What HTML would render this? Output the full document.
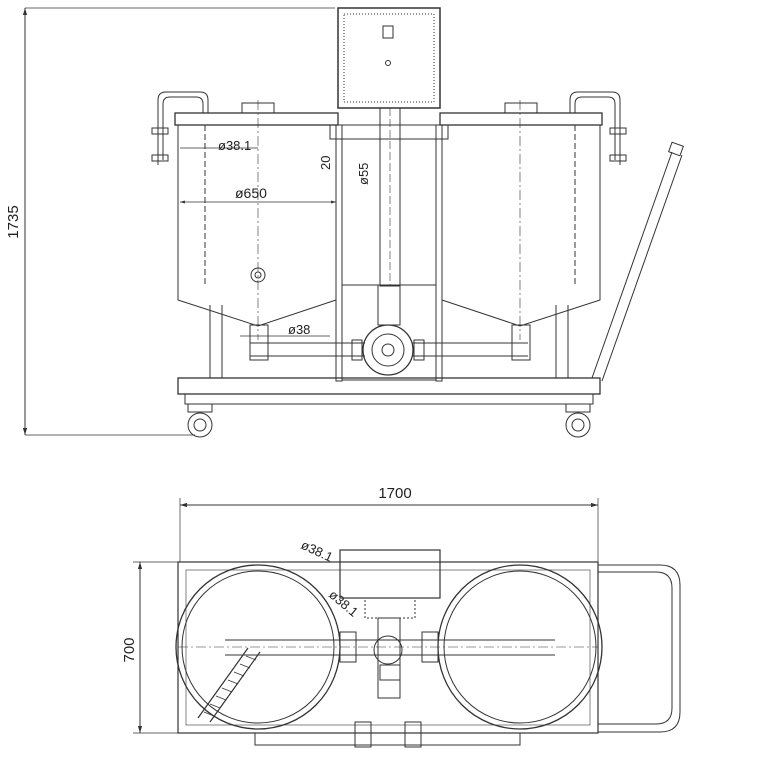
<!DOCTYPE html>
<html><head><style>html,body{margin:0;padding:0;background:#fff}svg{display:block}text{font-family:"Liberation Sans",sans-serif;fill:#222}</style></head>
<body>
<svg width="765" height="765" viewBox="0 0 765 765" xmlns="http://www.w3.org/2000/svg" fill="none" stroke="#333" stroke-width="1">
<defs><marker id="a" viewBox="0 0 10 10" refX="10" refY="5" markerWidth="7" markerHeight="7" orient="auto-start-reverse"><path d="M0 2 L10 5 L0 8 z" fill="#333" stroke="none"/></marker></defs>
<!-- 1735 dimension -->
<line x1="25" y1="8" x2="335" y2="8" stroke-width="0.7"/>
<line x1="25" y1="435" x2="195" y2="435" stroke-width="0.7"/>
<line x1="25" y1="8" x2="25" y2="435" marker-start="url(#a)" marker-end="url(#a)"/>
<text x="18" y="222" font-size="15" transform="rotate(-90 18 222)" text-anchor="middle" stroke="none">1735</text>
<!-- control box -->
<rect x="338" y="8" width="102" height="100" stroke-width="1.5"/>
<rect x="344" y="14" width="90" height="88" stroke-dasharray="1 2"/>
<rect x="383" y="26" width="10" height="12"/>
<circle cx="388" cy="63" r="2.5"/>
<!-- tanks -->
<rect x="175" y="113" width="163" height="12" stroke-width="1.3"/>
<rect x="440" y="113" width="162" height="12" stroke-width="1.3"/>
<path d="M178 125 V300 L258 326 L336 300 V125"/>
<path d="M442 125 V300 L520 326 L600 300 V125"/>
<line x1="205" y1="125" x2="205" y2="285" stroke-dasharray="6 3"/>
<line x1="575" y1="125" x2="575" y2="285" stroke-dasharray="6 3"/>
<line x1="258" y1="100" x2="258" y2="340" stroke-dasharray="10 3 2 3" stroke-width="0.6"/>
<line x1="520" y1="100" x2="520" y2="340" stroke-dasharray="10 3 2 3" stroke-width="0.6"/>
<rect x="242" y="103" width="32" height="10"/><rect x="505" y="103" width="32" height="10"/>
<circle cx="258" cy="275" r="7"/><circle cx="258" cy="275" r="3"/>
<!-- handles -->
<path d="M158 165 V100 Q158 92 166 92 H200 Q208 92 208 100 V113"/>
<path d="M163 160 V104 Q163 97 170 97 H196 Q203 97 203 104 V113"/>
<path d="M620 165 V100 Q620 92 612 92 H578 Q570 92 570 100 V113"/>
<path d="M615 160 V104 Q615 97 608 97 H582 Q575 97 575 104 V113"/>
<rect x="152" y="128" width="16" height="6"/><rect x="152" y="155" width="16" height="6"/>
<rect x="610" y="128" width="16" height="6"/><rect x="610" y="155" width="16" height="6"/>
<!-- dims on tanks -->
<line x1="180" y1="148" x2="258" y2="148" stroke-width="0.7"/><text x="218" y="150" font-size="13" stroke="none">ø38.1</text>
<line x1="180" y1="202" x2="336" y2="202" stroke-width="0.7" marker-start="url(#a)" marker-end="url(#a)"/><text x="235" y="198" font-size="14" stroke="none">ø650</text>
<text x="330" y="170" font-size="13" stroke="none" transform="rotate(-90 330 170)">20</text>
<text x="368" y="185" font-size="13" stroke="none" transform="rotate(-90 368 185)">ø55</text>
<line x1="240" y1="336" x2="330" y2="336" stroke-width="0.7"/><text x="288" y="334" font-size="13" stroke="none">ø38</text>
<!-- center column -->
<rect x="380" y="108" width="20" height="178"/>
<line x1="390" y1="108" x2="390" y2="286" stroke-dasharray="8 3" stroke-width="0.6"/>
<rect x="330" y="125" width="118" height="14"/>
<rect x="336" y="125" width="6" height="256"/><rect x="436" y="125" width="6" height="256"/>
<rect x="342" y="285" width="94" height="95"/>
<rect x="378" y="285" width="22" height="40"/>
<circle cx="388" cy="350" r="25" stroke-width="1.3"/><circle cx="388" cy="350" r="16"/><circle cx="388" cy="350" r="6"/>
<rect x="352" y="340" width="10" height="20"/><rect x="414" y="340" width="10" height="20"/>
<!-- pipes -->
<path d="M250 343 H365 M250 356 H365 M412 343 H528 M412 356 H528"/>
<rect x="250" y="325" width="18" height="35"/><rect x="512" y="325" width="18" height="35"/>
<!-- legs/frame -->
<path d="M210 305 V378 M222 305 V378 M556 305 V378 M568 305 V378"/>
<rect x="178" y="378" width="422" height="16" stroke-width="1.3"/>
<rect x="185" y="394" width="408" height="10"/>
<circle cx="200" cy="425" r="12"/><circle cx="200" cy="425" r="6"/>
<circle cx="578" cy="425" r="12"/><circle cx="578" cy="425" r="6"/>
<rect x="188" y="404" width="24" height="8"/><rect x="566" y="404" width="24" height="8"/>
<!-- trolley handle -->
<path d="M592 378 L672 152 M602 381 L682 155"/>
<rect x="670" y="144" width="12" height="10" transform="rotate(20 676 149)"/>
<!-- top view -->
<line x1="180" y1="505" x2="598" y2="505" marker-start="url(#a)" marker-end="url(#a)"/>
<line x1="180" y1="498" x2="180" y2="562" stroke-width="0.7"/><line x1="598" y1="498" x2="598" y2="562" stroke-width="0.7"/>
<text x="395" y="498" font-size="15" text-anchor="middle" stroke="none">1700</text>
<line x1="140" y1="562" x2="140" y2="733" marker-start="url(#a)" marker-end="url(#a)"/>
<line x1="133" y1="562" x2="180" y2="562" stroke-width="0.7"/><line x1="133" y1="733" x2="180" y2="733" stroke-width="0.7"/>
<text x="134" y="650" font-size="15" text-anchor="middle" stroke="none" transform="rotate(-90 134 650)">700</text>
<rect x="178" y="562" width="420" height="171" stroke-width="1.2"/>
<rect x="186" y="570" width="404" height="155" stroke-width="0.6"/>
<circle cx="258" cy="647" r="82" stroke-width="1.3"/><circle cx="258" cy="647" r="76"/>
<circle cx="520" cy="647" r="82" stroke-width="1.3"/><circle cx="520" cy="647" r="76"/>
<line x1="178" y1="647" x2="598" y2="647" stroke-dasharray="10 3 2 3" stroke-width="0.6"/>
<line x1="225" y1="640" x2="555" y2="640"/><line x1="225" y1="655" x2="555" y2="655"/>
<path d="M598 565 H660 Q680 565 680 585 V712 Q680 732 660 732 H598"/>
<path d="M598 572 H656 Q672 572 672 588 V708 Q672 724 656 724 H598"/>
<rect x="340" y="550" width="100" height="48" stroke-width="1.2"/>
<rect x="365" y="598" width="50" height="20" stroke-dasharray="2 2"/>
<rect x="378" y="618" width="22" height="80"/>
<circle cx="388" cy="650" r="14"/>
<rect x="340" y="632" width="16" height="30"/><rect x="422" y="632" width="16" height="30"/>
<rect x="380" y="665" width="20" height="15"/>
<path d="M255 733 V745 H520 V733"/>
<rect x="355" y="722" width="16" height="25"/><rect x="405" y="722" width="16" height="25"/>
<path d="M198 718 L248 648 M210 722 L260 652" stroke-width="1.2"/>
<path d="M204 712 l10 4 M210 704 l10 4 M216 696 l10 4 M222 688 l10 4 M228 680 l10 4 M234 672 l10 4 M240 664 l10 4 M246 656 l10 4" stroke-width="0.7"/>
<text x="300" y="548" font-size="13" stroke="none" transform="rotate(25 300 548)">ø38.1</text>
<text x="328" y="596" font-size="13" stroke="none" transform="rotate(40 328 596)">ø38.1</text>
</svg>
</body></html>
